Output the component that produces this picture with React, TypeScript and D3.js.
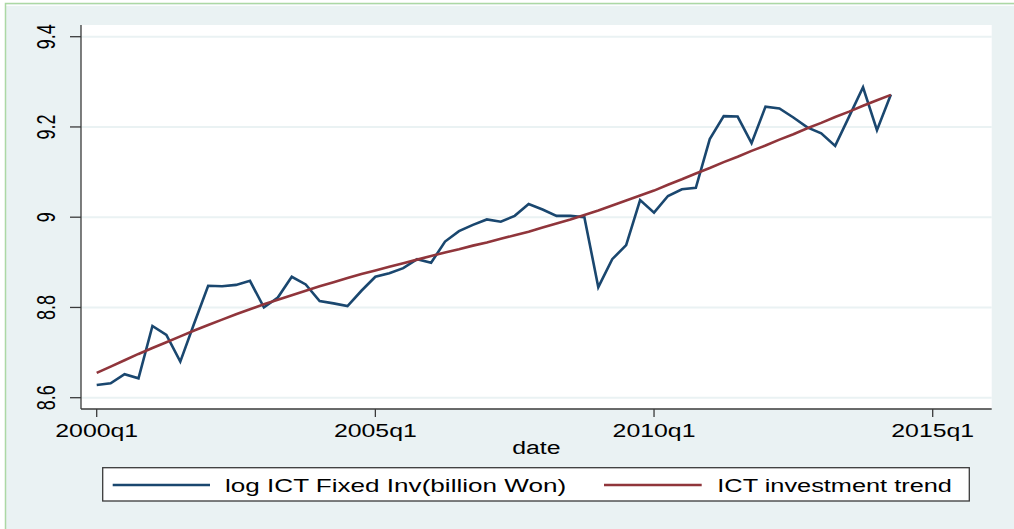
import React from "react";
import * as d3 from "d3";

// ---- data ----
const startYear = 2000;
const logICT: number[] = [
  8.628, 8.632, 8.652, 8.643, 8.759, 8.739, 8.680, 8.765,
  8.848, 8.847, 8.850, 8.859, 8.800, 8.822, 8.868, 8.851,
  8.814, 8.809, 8.803, 8.837, 8.868, 8.876, 8.887, 8.907,
  8.899, 8.946, 8.969, 8.983, 8.995, 8.990, 9.003, 9.029,
  9.017, 9.003, 9.003, 9.000, 8.845, 8.907, 8.938, 9.038,
  9.010, 9.047, 9.062, 9.065, 9.173, 9.224, 9.223, 9.164,
  9.245, 9.241, 9.221, 9.199, 9.186, 9.158, 9.223, 9.288,
  9.193, 9.272,
];
const trend: number[] = [
  8.655, 8.669, 8.683, 8.697, 8.710, 8.723, 8.736, 8.749,
  8.761, 8.773, 8.785, 8.796, 8.807, 8.817, 8.827, 8.837,
  8.847, 8.856, 8.865, 8.874, 8.882, 8.890, 8.898, 8.906,
  8.914, 8.922, 8.929, 8.937, 8.944, 8.952, 8.960, 8.968,
  8.977, 8.986, 8.995, 9.005, 9.015, 9.026, 9.037, 9.048,
  9.059, 9.072, 9.084, 9.097, 9.109, 9.122, 9.134, 9.147,
  9.159, 9.172, 9.184, 9.197, 9.209, 9.222, 9.234, 9.247,
  9.259, 9.271,
];
const quarters: string[] = logICT.map(
  (_, i) => `${startYear + Math.floor(i / 4)}q${(i % 4) + 1}`
);
const xTickIdx: number[] = [0, 20, 40, 60];
const xTickLabels: string[] = ["2000q1", "2005q1", "2010q1", "2015q1"];
const yTicks: number[] = [8.6, 8.8, 9.0, 9.2, 9.4];
const yTickLabels: string[] = ["8.6", "8.8", "9", "9.2", "9.4"];
const seriesNames: string[] = ["log ICT Fixed Inv(billion Won)", "ICT investment trend"];

const W = 1014;
const H = 529;
const BG = "#eaf2f3";
const BLUE = "#1a476f";
const RED = "#90353b";
const AXIS = "#3a3a3a";
const FONT = "'Liberation Sans', Arial, Helvetica, sans-serif";
const SX = 1.38;

export default function App() {
  const plot = { left: 81, right: 991.7, top: 25, bottom: 409 };
  const x = d3.scaleLinear().domain([0, 60]).range([96.7, 932.7]);
  const y = d3.scaleLinear().domain([8.6, 9.4]).range([397.7, 36.7]);

  const line = d3
    .line<number>()
    .x((_, i) => x(i))
    .y((d) => y(d));

  return (
    <svg
      width={W}
      height={H}
      style={{ position: "absolute", left: 0, top: 0, display: "block" }}
    >
      <rect x={0} y={0} width={W} height={H} fill="#ffffff" />
      <rect x={5.5} y={3.5} width={W} height={H} fill={BG} stroke="#acd8a4" strokeWidth={1.5} />
      <rect x={6.5} y={4.8} width={W} height={1.2} fill="#ffffff" opacity={0.8} />
      {/* plot region */}
      <rect
        x={plot.left}
        y={plot.top}
        width={plot.right - plot.left}
        height={plot.bottom - plot.top}
        fill="#ffffff"
      />
      {/* grid */}
      {yTicks.map((t) => (
        <line
          key={"g" + t}
          x1={plot.left}
          x2={plot.right}
          y1={y(t)}
          y2={y(t)}
          stroke={BG}
          strokeWidth={2}
        />
      ))}
      {/* series */}
      <path d={line(logICT) || ""} fill="none" stroke={BLUE} strokeWidth={2.6} strokeLinejoin="miter" />
      <path d={line(trend) || ""} fill="none" stroke={RED} strokeWidth={2.6} />
      {/* axes */}
      <line x1={plot.left} x2={plot.left} y1={plot.top} y2={plot.bottom} stroke={AXIS} strokeWidth={1.3} />
      <line x1={plot.left} x2={plot.right} y1={plot.bottom} y2={plot.bottom} stroke={AXIS} strokeWidth={1.3} />
      {yTicks.map((t, i) => (
        <g key={"yt" + t}>
          <line x1={plot.left - 11} x2={plot.left} y1={y(t)} y2={y(t)} stroke={AXIS} strokeWidth={1.3} />
          <text
            transform={`translate(55,${y(t)}) scale(${SX},1) rotate(-90)`}
            textAnchor="middle"
            fontFamily={FONT}
            fontSize={18}
            fill="#000"
          >
            {yTickLabels[i]}
          </text>
        </g>
      ))}
      {xTickIdx.map((t, i) => (
        <g key={"xt" + t}>
          <line x1={x(t)} x2={x(t)} y1={plot.bottom} y2={plot.bottom + 8} stroke={AXIS} strokeWidth={1.3} />
          <text
            transform={`translate(${x(t)},436.5) scale(${SX},1)`}
            textAnchor="middle"
            fontFamily={FONT}
            fontSize={18}
            fill="#000"
          >
            {xTickLabels[i]}
          </text>
        </g>
      ))}
      <text
        transform={`translate(${(plot.left + plot.right) / 2},454.3) scale(${SX},1)`}
        textAnchor="middle"
        fontFamily={FONT}
        fontSize={18}
        fill="#000"
      >
        date
      </text>
      {/* legend */}
      <rect x={102.7} y={467.7} width={866.6} height={33.3} fill="#ffffff" stroke={AXIS} strokeWidth={1.3} />
      <line x1={112.7} x2={210} y1={485} y2={485} stroke={BLUE} strokeWidth={2.6} />
      <text
        transform={`translate(225,491.5) scale(1.41,1)`}
        fontFamily={FONT}
        fontSize={18.5}
        fill="#000"
      >
        {seriesNames[0]}
      </text>
      <line x1={604} x2={701.7} y1={485} y2={485} stroke={RED} strokeWidth={2.6} />
      <text
        transform={`translate(717.3,491.5) scale(1.37,1)`}
        fontFamily={FONT}
        fontSize={18.5}
        fill="#000"
      >
        {seriesNames[1]}
      </text>
      <title>{quarters[0] + " - " + quarters[quarters.length - 1]}</title>
    </svg>
  );
}
